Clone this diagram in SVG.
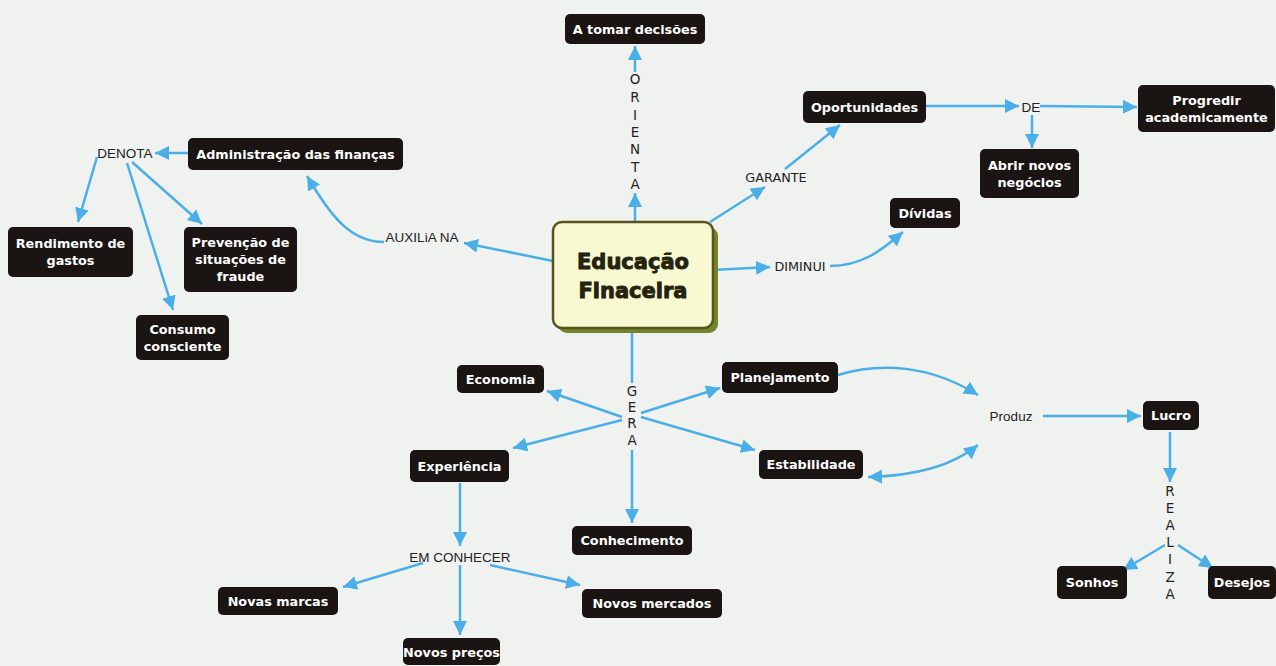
<svg xmlns="http://www.w3.org/2000/svg" width="1276" height="666" viewBox="0 0 1276 666">
<defs>
<marker id="ah" markerWidth="15" markerHeight="14" refX="14" refY="7" orient="auto-start-reverse" markerUnits="userSpaceOnUse">
<path d="M0,0 L14,7 L0,14 Z" fill="#4aaee8"/>
</marker>
<style>
.n rect{fill:#1a1412;}
.n text{fill:#ffffff;font-family:"DejaVu Sans",Verdana,sans-serif;font-weight:bold;font-size:12.8px;text-anchor:middle;}
.c path{fill:none;stroke:#4aaee8;stroke-width:2.5;}
.a{marker-end:url(#ah);}
.lb{fill:#222222;font-family:"Liberation Sans",Arial,sans-serif;font-size:13.5px;text-anchor:middle;}
.lv{fill:#222222;font-family:"DejaVu Sans",Verdana,sans-serif;font-size:13.5px;text-anchor:middle;}
.ld{fill:#222222;font-family:"DejaVu Sans",Verdana,sans-serif;font-size:12.8px;text-anchor:middle;}
.et{font-family:"DejaVu Sans",Verdana,sans-serif;font-weight:bold;font-size:21px;fill:#24230f;stroke:#24230f;stroke-width:0.9;text-anchor:middle;}
</style>
</defs>
<rect x="0" y="0" width="1276" height="666" fill="#f0f2f0"/>

<g id="connectors" class="c">
<path class="a" d="M635,222 L635,193"/>
<path class="a" d="M635,72 L635,46"/>
<path class="a" d="M710,222 L765,187"/>
<path class="a" d="M785,169 L840,125"/>
<path class="a" d="M926,106 L1019,106"/>
<path class="a" d="M1040,106 L1137,107"/>
<path class="a" d="M1032,115 L1032,148"/>
<path class="a" d="M713,270 L770,267"/>
<path class="a" d="M830,266 C862,266 882,250 903,232"/>
<path class="a" d="M553,261 L464,243"/>
<path class="a" d="M384,242 C350,242 330,215 307,176"/>
<path class="a" d="M188,153 L155,153"/>
<path class="a" d="M97,157 L78,222"/>
<path class="a" d="M132,162 L202,224"/>
<path class="a" d="M127,163 L173,310"/>
<path d="M632,328 L632,383"/>
<path class="a" d="M622,417 L547,391"/>
<path class="a" d="M641,413 L720,388"/>
<path class="a" d="M622,420 L513,448"/>
<path class="a" d="M641,417 L755,450"/>
<path class="a" d="M632,450 L632,523"/>
<path class="a" d="M838,375 C880,362 930,365 978,395"/>
<path class="a" style="marker-start:url(#ah)" d="M868,477 C910,476 950,468 978,445"/>
<path class="a" d="M1043,416 L1141,416"/>
<path class="a" d="M1170,432 L1170,482"/>
<path class="a" d="M1165,545 L1123,570"/>
<path class="a" d="M1178,545 L1213,568"/>
<path class="a" d="M460,483 L460,546"/>
<path class="a" d="M423,563 L343,587"/>
<path class="a" d="M460,565 L460,635"/>
<path class="a" d="M490,565 L580,585"/>
</g>

<g id="labels">
<text class="lv"><tspan x="635" y="84">O</tspan><tspan x="635" y="102">R</tspan><tspan x="635" y="120">I</tspan><tspan x="635" y="137">E</tspan><tspan x="635" y="154">N</tspan><tspan x="635" y="172">T</tspan><tspan x="635" y="189">A</tspan></text>
<text class="ld" x="776" y="182">GARANTE</text>
<text class="ld" x="800" y="271">DIMINUI</text>
<text class="lb" x="1031" y="112">DE</text>
<text class="lb" x="422" y="242">AUXILiA NA</text>
<text class="lb" x="125" y="158">DENOTA</text>
<text class="lv"><tspan x="632" y="396">G</tspan><tspan x="632" y="412">E</tspan><tspan x="632" y="428">R</tspan><tspan x="632" y="445">A</tspan></text>
<text class="lb" x="1011" y="421">Produz</text>
<text class="lv"><tspan x="1170" y="496">R</tspan><tspan x="1170" y="513">E</tspan><tspan x="1170" y="530">A</tspan><tspan x="1170" y="547">L</tspan><tspan x="1170" y="564">I</tspan><tspan x="1170" y="582">Z</tspan><tspan x="1170" y="599">A</tspan></text>
<text class="lb" x="460" y="562">EM CONHECER</text>
</g>

<g id="edu">
<rect x="558" y="227" width="160" height="106" rx="9" fill="#74842c"/>
<rect x="553" y="222" width="160" height="106" rx="9" fill="#f8f9d0" stroke="#55561e" stroke-width="2.5"/>
<text class="et" x="633" y="269">Educação</text>
<text class="et" x="633" y="298">Finaceira</text>
</g>

<g id="decisoes" class="n"><rect x="565" y="14" width="140" height="30" rx="5"/><text x="635" y="33.5">A tomar decisões</text></g>
<g id="oportunidades" class="n"><rect x="803" y="91" width="123" height="32" rx="5"/><text x="864.5" y="111.5">Oportunidades</text></g>
<g id="progredir" class="n"><rect x="1138" y="85" width="137" height="47" rx="5"/><text x="1206.5" y="104.5">Progredir</text><text x="1206.5" y="121.5">academicamente</text></g>
<g id="abrir" class="n"><rect x="980" y="149" width="99" height="49" rx="5"/><text x="1029.5" y="169.5">Abrir novos</text><text x="1029.5" y="186.5">negócios</text></g>
<g id="dividas" class="n"><rect x="890" y="198" width="70" height="30" rx="5"/><text x="925" y="217.5">Dívidas</text></g>
<g id="administracao" class="n"><rect x="188" y="138" width="215" height="32" rx="5"/><text x="295.5" y="158.5">Administração das finanças</text></g>
<g id="rendimento" class="n"><rect x="8" y="227" width="125" height="50" rx="5"/><text x="70.5" y="248">Rendimento de</text><text x="70.5" y="265">gastos</text></g>
<g id="prevencao" class="n"><rect x="184" y="227" width="113" height="65" rx="5"/><text x="240.5" y="247">Prevenção de</text><text x="240.5" y="264">situações de</text><text x="240.5" y="281">fraude</text></g>
<g id="consumo" class="n"><rect x="136" y="315" width="93" height="45" rx="5"/><text x="182.5" y="333.5">Consumo</text><text x="182.5" y="350.5">consciente</text></g>
<g id="economia" class="n"><rect x="457" y="365" width="87" height="28" rx="5"/><text x="500.5" y="383.5">Economia</text></g>
<g id="planejamento" class="n"><rect x="722" y="362" width="116" height="31" rx="5"/><text x="780" y="382">Planejamento</text></g>
<g id="experiencia" class="n"><rect x="410" y="450" width="99" height="32" rx="5"/><text x="459.5" y="470.5">Experiência</text></g>
<g id="estabilidade" class="n"><rect x="759" y="450" width="104" height="29" rx="5"/><text x="811" y="469">Estabilidade</text></g>
<g id="conhecimento" class="n"><rect x="572" y="526" width="120" height="29" rx="5"/><text x="632" y="545">Conhecimento</text></g>
<g id="novas-marcas" class="n"><rect x="218" y="587" width="120" height="28" rx="5"/><text x="278" y="605.5">Novas marcas</text></g>
<g id="novos-mercados" class="n"><rect x="582" y="589" width="140" height="29" rx="5"/><text x="652" y="608">Novos mercados</text></g>
<g id="novos-precos" class="n"><rect x="403" y="638" width="97" height="27" rx="5"/><text x="451.5" y="656.5">Novos preços</text></g>
<g id="lucro" class="n"><rect x="1143" y="401" width="56" height="29" rx="5"/><text x="1171" y="420">Lucro</text></g>
<g id="sonhos" class="n"><rect x="1057" y="566" width="70" height="33" rx="5"/><text x="1092" y="587">Sonhos</text></g>
<g id="desejos" class="n"><rect x="1208" y="566" width="68" height="33" rx="5"/><text x="1242" y="587">Desejos</text></g>
</svg>
